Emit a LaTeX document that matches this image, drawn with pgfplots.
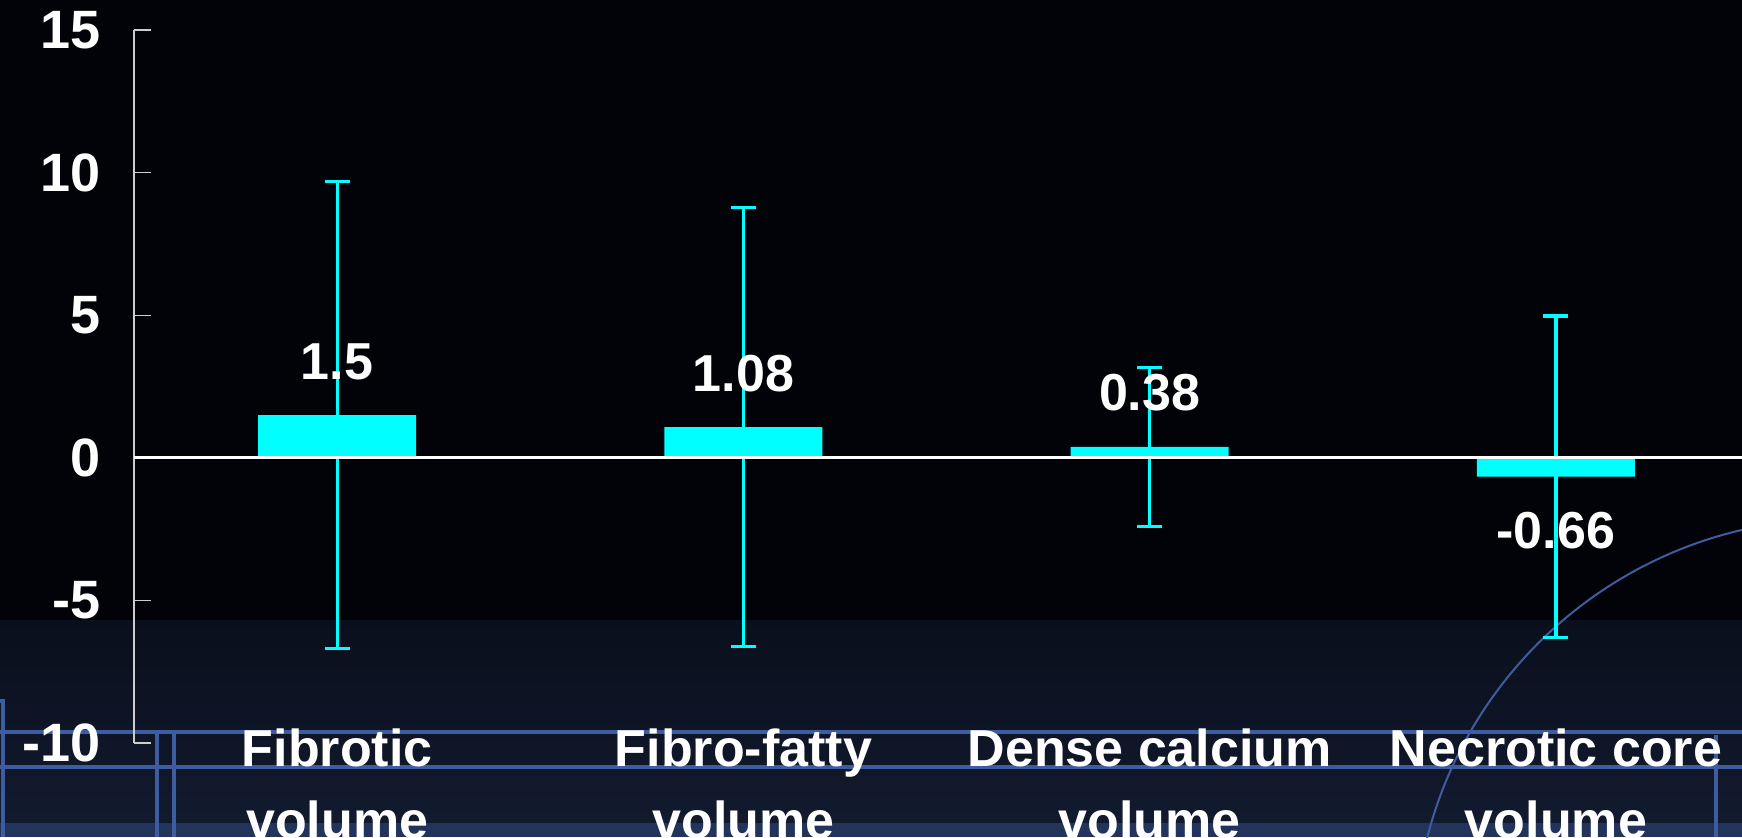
\documentclass[border=0pt]{standalone}
\usepackage{pgfplots}
\pgfplotsset{compat=1.18}
\usepackage{pgfplotstable}
\usepackage{fontspec}
\setmainfont{Liberation Sans}

\definecolor{bgblack}{RGB}{2,3,8}
\definecolor{navytop}{RGB}{10,15,28}
\definecolor{navybot}{RGB}{18,26,46}
\definecolor{navyband}{RGB}{34,52,92}
\definecolor{decoblue}{RGB}{62,92,160}
\definecolor{barcyan}{RGB}{0,255,255}
\definecolor{axisgray}{RGB}{205,205,205}

% mean change with its spread, one row per plaque component
\pgfplotstableread{
x   y      err   label
0   1.5    8.2   1.5
1   1.08   7.7   1.08
2   0.38   2.78  0.38
3   -0.66  5.63  -0.66
}\volumes

\begin{document}
\begin{tikzpicture}
\useasboundingbox (0,0) rectangle (871pt,-418.5pt);
\clip (0,0) rectangle (871pt,-418.5pt);

% slide background and its ornament, laid out in pixel units
\begin{scope}[x=0.5pt,y=-0.5pt]
  \fill[bgblack] (0,0) rectangle (1742,620);
  \shade[top color=navytop, bottom color=navybot] (0,620) rectangle (1742,823);
  \fill[navyband] (0,823) rectangle (1742,837);
  \begin{scope}[draw=decoblue, line width=1.6pt]
    \draw (0,732) -- (1742,732);
    \draw (0,767) -- (1742,767);
    \draw (0,701) -- (3,701) -- (3,837);
    \draw (157,732) -- (157,837);
    \draw (174,732) -- (174,837);
    \draw (1716,735) -- (1716,837);
  \end{scope}
  \draw[decoblue, line width=1pt] (1838,943) circle[radius=212pt];
\end{scope}

\begin{axis}[
  at={(67pt,-371.5pt)}, anchor=south west,
  scale only axis, width=804pt, height=356.5pt,
  xmin=-0.5, xmax=3.458, ymin=-10, ymax=15,
  axis lines*=left,
  x axis line style={draw=none},
  y axis line style={draw=axisgray, line width=0.6pt},
  tick align=inside,
  major tick length=8.5pt,
  xtick={0,1,2,3},
  xticklabels={{Fibrotic\\volume},{Fibro-fatty\\volume},{Dense calcium\\volume},{Necrotic core\\volume}},
  xtick style={draw=none},
  xticklabel style={align=center, text=white, inner sep=0pt, yshift=7.5pt,
    font=\bfseries\fontsize{26}{36}\selectfont},
  ytick={-10,-5,0,5,10,15},
  yticklabels={-10,-5,0,5,10,15},
  ytick style={draw=axisgray, line width=0.6pt},
  yticklabel style={text=white, inner sep=0pt, xshift=-16.5pt,
    font=\bfseries\fontsize{27}{30}\selectfont},
  clip=false,
]
\addplot[ybar, bar width=79pt, fill=barcyan, draw=none,
  point meta=explicit symbolic,
  nodes near coords,
  visualization depends on={rawy \as \yval},
  every node near coord/.append style={text=white, inner xsep=0pt, inner ysep=17.5pt,
    font=\bfseries\fontsize{26}{30}\selectfont,
    /utils/exec={\pgfmathparse{\yval<0}%
      \ifnum\pgfmathresult=1 \def\nnanchor{north}\else\def\nnanchor{south}\fi},
    anchor=\nnanchor},
  error bars/.cd, y dir=both, y explicit,
  error bar style={barcyan, line width=1.6pt},
  error mark options={rotate=90, barcyan, mark size=6.25pt, line width=1.6pt},
] table[x=x, y=y, y error=err, meta=label] {\volumes};
\addplot[white, line width=1.5pt, forget plot] coordinates {(-0.5,0) (3.458,0)};
\end{axis}
\end{tikzpicture}
\end{document}
